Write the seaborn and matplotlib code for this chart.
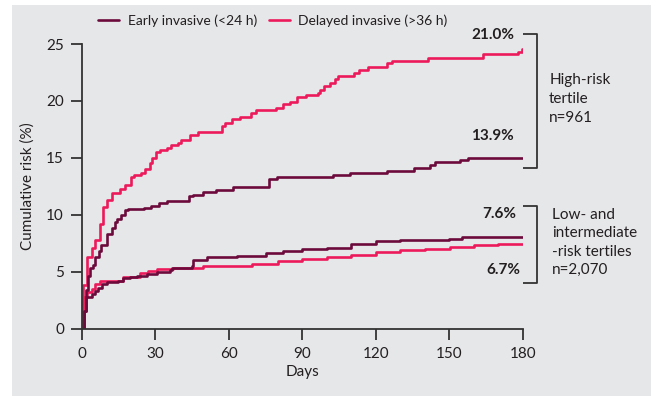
import matplotlib
matplotlib.use("Agg")
import matplotlib.pyplot as plt
from matplotlib.patches import Rectangle
from matplotlib.lines import Line2D
import seaborn as sns
import pandas as pd

# Kaplan-Meier style cumulative risk curves (days, %)
high_delayed_days = [0, 0.5, 2.2, 3.9, 5.2, 7.2, 8.6, 10.3, 12.2, 15.4, 17.4, 20.1, 21.2, 24.2,
                     25.6, 27.6, 28.6, 30.3, 31.7, 34.6, 36.2, 39.2, 40.5, 44.0, 47.3, 57.0,
                     58.2, 61.1, 64.3, 68.9, 71.1, 79.2, 81.9, 84.9, 87.9, 91.4, 96.5, 97.2,
                     98.8, 101.2, 103.3, 104.4, 111.0, 113.0, 116.9, 124.4, 126.4, 141.4,
                     163.8, 178.1, 179.5, 180]
high_delayed_risk = [0, 3.8, 6.3, 7.1, 7.8, 9.2, 10.7, 11.3, 11.9, 12.3, 12.6, 13.3, 13.5, 13.65,
                     14.0, 14.5, 15.0, 15.5, 15.7, 15.9, 16.1, 16.3, 16.6, 17.0, 17.3, 17.8,
                     18.1, 18.4, 18.6, 18.9, 19.2, 19.4, 19.7, 19.9, 20.3, 20.5, 20.7, 21.0,
                     21.3, 21.6, 21.9, 22.2, 22.45, 22.7, 23.0, 23.3, 23.55, 23.8,
                     24.1, 24.3, 24.55, 24.55]

high_early_days = [0, 1.0, 1.6, 2.3, 3.2, 4.5, 5.5, 7.0, 7.6, 10.3, 12.2, 13.3, 14.4, 16.0,
                   17.4, 18.8, 25.3, 28.3, 31.3, 34.8, 43.7, 45.3, 49.5, 54.7, 61.5, 76.3,
                   79.5, 102.3, 109.4, 124.6, 135.5, 142.0, 144.1, 154.3, 157.7, 180]
high_early_risk = [0, 1.5, 3.4, 4.6, 5.3, 5.6, 6.3, 6.8, 7.3, 8.3, 8.8, 9.4, 9.6, 10.0,
                   10.4, 10.5, 10.6, 10.8, 11.0, 11.2, 11.6, 11.74, 12.0, 12.2, 12.4, 13.1,
                   13.3, 13.5, 13.65, 13.85, 14.1, 14.4, 14.6, 14.8, 15.0, 15.0]

low_delayed_days = [0, 0.5, 2.0, 3.9, 5.3, 7.3, 16.9, 23.7, 27.1, 30.6, 37.3, 49.5, 69.3,
                    80, 90, 100, 110, 120, 130, 140, 150.2, 160, 170, 180]
low_delayed_risk = [0, 2.8, 3.2, 3.5, 3.9, 4.2, 4.5, 4.85, 5.05, 5.2, 5.3, 5.5, 5.7,
                    5.9, 6.1, 6.3, 6.5, 6.7, 6.9, 7.0, 7.2, 7.3, 7.4, 7.4]

low_early_days = [0, 1.0, 1.6, 3.9, 5.3, 6.6, 8.0, 10.0, 14.8, 16.9, 19.6, 22.3, 26.4, 30.6,
                  35.9, 36.6, 44.8, 45.4, 50.9, 63.1, 75, 82, 90, 100, 110, 120, 130, 150,
                  155, 180]
low_early_risk = [0, 1.5, 2.8, 3.05, 3.3, 3.6, 3.9, 4.1, 4.2, 4.4, 4.5, 4.65, 4.8, 4.95,
                  5.1, 5.3, 5.5, 6.0, 6.25, 6.4, 6.6, 6.8, 7.0, 7.1, 7.4, 7.7, 7.8, 7.9,
                  8.0, 8.0]

x_ticks = [0, 30, 60, 90, 120, 150, 180]
y_ticks = [0, 5, 10, 15, 20, 25]

legend_labels = ["Early invasive (<24 h)", "Delayed invasive (>36 h)"]
high_labels = ["21.0%", "13.9%"]
low_labels = ["7.6%", "6.7%"]
high_group = "High-risk\ntertile\nn=961"
low_group = "Low- and\nintermediate\n-risk tertiles\nn=2,070"

EARLY = "#6d0a3c"
DELAYED = "#ec1a5b"
TEXT = "#231f20"
PANEL = "#e6e7e9"

sns.set_style("ticks")
plt.rcParams["font.family"] = ["Lato", "DejaVu Sans"]
plt.rcParams["text.color"] = TEXT
plt.rcParams["axes.labelcolor"] = TEXT
plt.rcParams["xtick.color"] = TEXT
plt.rcParams["ytick.color"] = TEXT

fig = plt.figure(figsize=(6.51, 3.96), dpi=100, facecolor="white")
fig.patches.append(Rectangle((12 / 651, 0), 1, 1 - 5 / 396, transform=fig.transFigure,
                             facecolor=PANEL, edgecolor="none", zorder=-10))
ax = fig.add_axes([82 / 651, 1 - 328.5 / 396, 441 / 651, 284.5 / 396])
ax.set_facecolor("none")

curves = [
    (low_delayed_days, low_delayed_risk, DELAYED),
    (low_early_days, low_early_risk, EARLY),
    (high_delayed_days, high_delayed_risk, DELAYED),
    (high_early_days, high_early_risk, EARLY),
]
for days, risk, color in curves:
    df = pd.DataFrame({"Days": days, "Risk": risk})
    sns.lineplot(data=df, x="Days", y="Risk", ax=ax, color=color, lw=1.9,
                 drawstyle="steps-post", estimator=None, sort=False)

ax.set_xlim(0, 180)
ax.set_ylim(0, 25)
ax.set_xticks(x_ticks)
ax.set_yticks(y_ticks)
ax.set_xlabel("Days", fontsize=11, labelpad=3)
ax.set_ylabel("Cumulative risk (%)", fontsize=11, labelpad=8)
ax.tick_params(axis="both", labelsize=11, length=8, width=1.3, pad=5, color="#333333")
for side in ("top", "right"):
    ax.spines[side].set_visible(False)
for side in ("left", "bottom"):
    ax.spines[side].set_linewidth(1.3)
    ax.spines[side].set_color("#333333")

# Legend across the top
handles = [Line2D([], [], color=EARLY, lw=1.9), Line2D([], [], color=DELAYED, lw=1.9)]
fig.legend(handles, legend_labels, loc="center", bbox_to_anchor=(273 / 651, 1 - 21 / 396),
           ncol=2, frameon=False, fontsize=10, handlelength=1.5, handletextpad=0.6,
           columnspacing=0.9)

# End-of-follow-up labels and group brackets
bold = dict(fontsize=11, fontweight="bold", ha="right", va="center")
ax.text(176.3, 25.8, high_labels[0], **bold, clip_on=False)
ax.text(176.3, 16.9, high_labels[1], **bold, clip_on=False)
ax.text(177.4, 10.1, low_labels[0], **bold, clip_on=False)
ax.text(178.8, 5.1, low_labels[1], **bold, clip_on=False)

bracket = dict(color="#333333", lw=1.3, clip_on=False, solid_capstyle="butt")
ax.plot([180, 185.8, 185.8, 180], [25.84, 25.84, 14.12, 14.12], **bracket)
ax.plot([180, 185.8, 185.8, 180], [10.8, 10.8, 3.98, 3.98], **bracket)

ax.text(190.7, 20.2, high_group, fontsize=11, ha="left", va="center", linespacing=1.45,
        clip_on=False)
ax.text(191.7, 7.55, low_group, fontsize=11, ha="left", va="center", linespacing=1.4,
        clip_on=False)

fig.savefig("out.png", dpi=100, facecolor="white")
